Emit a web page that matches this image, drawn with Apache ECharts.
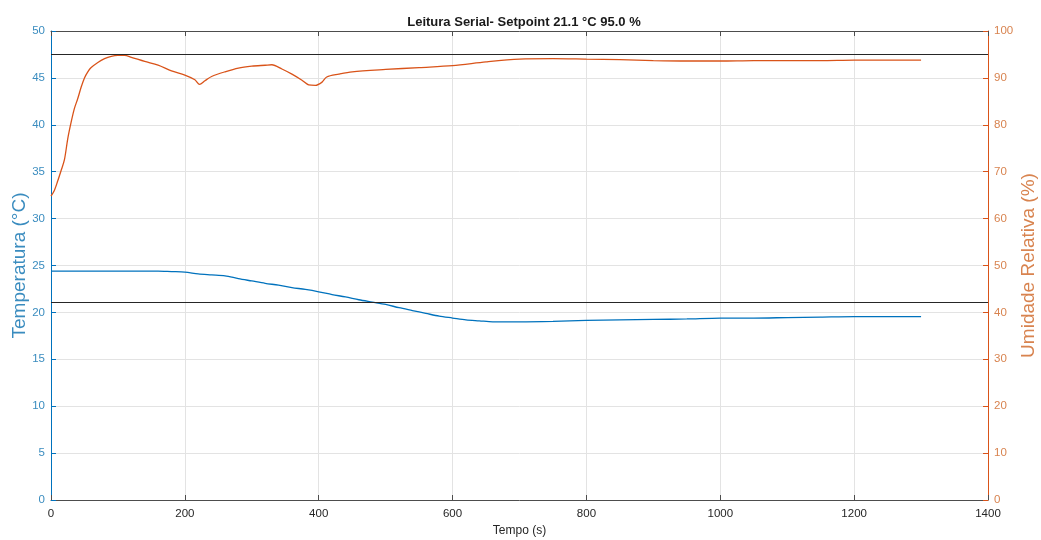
<!DOCTYPE html>
<html>
<head>
<meta charset="utf-8">
<script src="https://cdn.jsdelivr.net/npm/echarts@6/dist/echarts.min.js"></script>
<style>
  html, body { margin: 0; padding: 0; background: #fff; }
  #chart { width: 1041px; height: 540px; }
</style>
</head>
<body>
<div id="chart"></div>
<script>
// Serial log: temperature (left axis) and relative humidity (right axis) over time
const tempTime = [0, 20, 40, 60, 80, 100, 120, 140, 160, 180, 200, 220, 240, 260, 280, 300, 320, 340, 360, 380,
  400, 420, 440, 460, 480, 500, 520, 540, 560, 580, 600, 620, 640, 660, 680, 700, 750, 800, 850, 900,
  950, 1000, 1050, 1100, 1150, 1200, 1250, 1300];
const temperature = [24.4, 24.4, 24.4, 24.4, 24.4, 24.4, 24.4, 24.4, 24.4, 24.35, 24.3, 24.1, 24.0, 23.9, 23.6, 23.35, 23.1, 22.9, 22.65, 22.45,
  22.2, 21.9, 21.65, 21.35, 21.1, 20.85, 20.5, 20.2, 19.9, 19.6, 19.4, 19.2, 19.1, 19.0, 19.0, 19.0, 19.05, 19.15, 19.2, 19.25,
  19.3, 19.4, 19.4, 19.45, 19.5, 19.55, 19.55, 19.55];

const humTime = [0, 5, 10, 15, 20, 25, 30, 35, 40, 45, 50, 55, 60, 70, 80, 90, 100, 110, 120, 140,
  160, 180, 200, 215, 222, 230, 240, 260, 280, 300, 320, 330, 345, 360, 375, 385, 395, 405, 412, 430,
  450, 500, 550, 600, 650, 700, 750, 800, 850, 900, 950, 1000, 1050, 1100, 1150, 1200, 1250, 1300];
const humidity = [64.8, 66, 68, 70.2, 72.5, 77, 80.5, 83.5, 85.6, 88, 90, 91.3, 92.2, 93.3, 94.1, 94.6, 94.8, 94.8, 94.4, 93.5,
  92.7, 91.5, 90.6, 89.6, 88.6, 89.4, 90.3, 91.3, 92.1, 92.5, 92.7, 92.8, 91.9, 90.8, 89.5, 88.5, 88.4, 89.1, 90.2, 90.8,
  91.3, 91.8, 92.2, 92.6, 93.4, 94.0, 94.1, 94.0, 93.9, 93.7, 93.6, 93.6, 93.7, 93.7, 93.7, 93.8, 93.8, 93.8];

const tempSetpoint = 21.1;
const humSetpoint = 95.0;

const blue = '#0072BD';
const orange = '#D95319';
const blueText = '#3a8cbf';
const orangeText = '#d8834f';
const font = '"Liberation Sans", Arial, sans-serif';

const chart = echarts.init(document.getElementById('chart'));
chart.setOption({
  animation: false,
  backgroundColor: '#ffffff',
  title: {
    text: 'Leitura Serial- Setpoint ' + tempSetpoint.toFixed(1) + ' °C ' + humSetpoint.toFixed(1) + ' %',
    left: 519, top: 11, textAlign: 'center',
    textStyle: { fontFamily: font, fontSize: 13, fontWeight: 'bold', color: '#1a1a1a' }
  },
  grid: { left: 51, right: 53, top: 31, bottom: 40, containLabel: false, outerBoundsMode: 'none' },
  xAxis: [{
    type: 'value', min: 0, max: 1400, interval: 200,
    name: 'Tempo (s)', nameLocation: 'middle', nameGap: 25, nameMoveOverlap: false,
    nameTextStyle: { fontFamily: font, fontSize: 12, color: '#262626' },
    axisLine: { show: true, onZero: false, lineStyle: { color: '#4d4d4d', width: 1 } },
    axisTick: { show: true, inside: true, length: 5, lineStyle: { color: '#4d4d4d' } },
    axisLabel: { fontFamily: font, fontSize: 11.5, color: '#262626', margin: 8, formatter: v => String(v) },
    splitLine: { show: true, lineStyle: { color: '#e3e3e3', width: 1 } }
  }, {
    type: 'value', min: 0, max: 1400, interval: 200, position: 'top',
    axisLine: { show: true, onZero: false, lineStyle: { color: '#4d4d4d', width: 1 } },
    axisTick: { show: true, inside: true, length: 5, lineStyle: { color: '#4d4d4d' } },
    axisLabel: { show: false },
    splitLine: { show: false }
  }],
  yAxis: [{
    type: 'value', min: 0, max: 50, interval: 5, position: 'left',
    name: 'Temperatura (°C)', nameLocation: 'middle', nameGap: 22, nameMoveOverlap: false,
    nameTextStyle: { fontFamily: font, fontSize: 19, color: blueText },
    axisLine: { show: true, onZero: false, lineStyle: { color: blue, width: 1 } },
    axisTick: { show: true, inside: true, length: 5, lineStyle: { color: blue } },
    axisLabel: { fontFamily: font, fontSize: 11.5, color: blueText, margin: 6 },
    splitLine: { show: true, lineStyle: { color: '#e3e3e3', width: 1 } }
  }, {
    type: 'value', min: 0, max: 100, interval: 10, position: 'right',
    name: 'Umidade Relativa (%)', nameLocation: 'middle', nameGap: 31, nameMoveOverlap: false,
    nameTextStyle: { fontFamily: font, fontSize: 19, color: orangeText },
    axisLine: { show: true, onZero: false, lineStyle: { color: orange, width: 1 } },
    axisTick: { show: true, inside: true, length: 5, lineStyle: { color: orange } },
    axisLabel: { fontFamily: font, fontSize: 11.5, color: orangeText, margin: 6 },
    splitLine: { show: false }
  }],
  series: [{
    name: 'Temperatura',
    type: 'line', xAxisIndex: 0, yAxisIndex: 0,
    data: tempTime.map((t, i) => [t, temperature[i]]),
    showSymbol: false, smooth: 0.3,
    lineStyle: { color: blue, width: 1.3 },
    markLine: {
      silent: true, symbol: 'none', label: { show: false },
      lineStyle: { color: '#262626', width: 1.2, type: 'solid' },
      data: [{ yAxis: tempSetpoint }]
    }
  }, {
    name: 'Umidade',
    type: 'line', xAxisIndex: 0, yAxisIndex: 1,
    data: humTime.map((t, i) => [t, humidity[i]]),
    showSymbol: false, smooth: 0.3,
    lineStyle: { color: orange, width: 1.3 },
    markLine: {
      silent: true, symbol: 'none', label: { show: false },
      lineStyle: { color: '#262626', width: 1.2, type: 'solid' },
      data: [{ yAxis: humSetpoint }]
    }
  }]
});
</script>
</body>
</html>
